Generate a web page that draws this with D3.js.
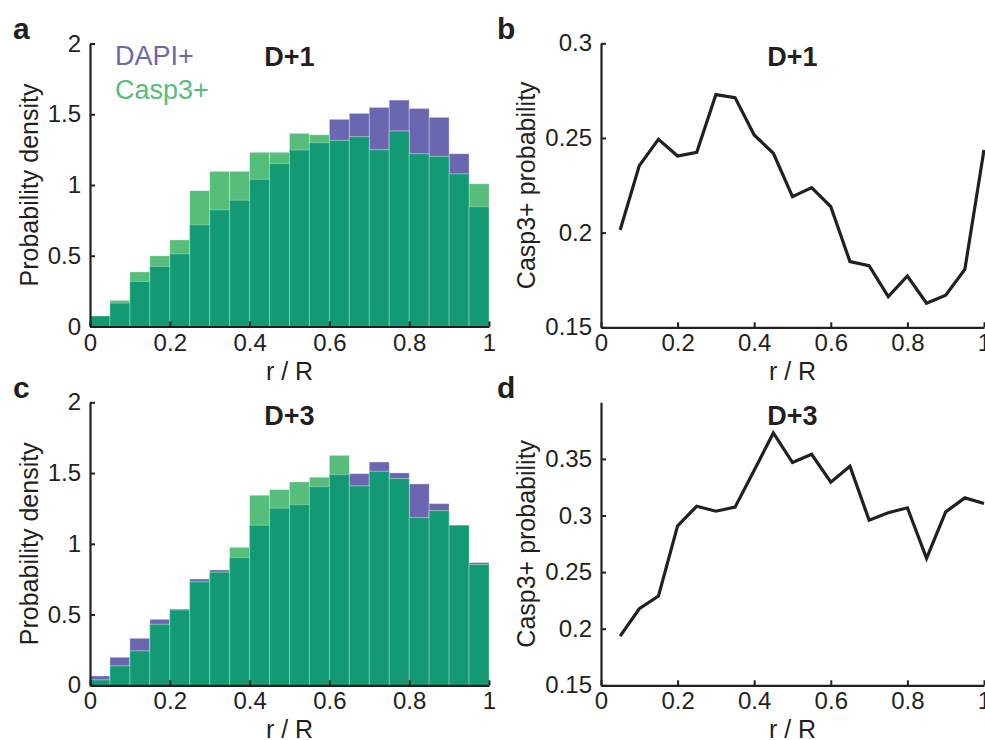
<!DOCTYPE html>
<html>
<head>
<meta charset="utf-8">
<script src="https://cdn.jsdelivr.net/npm/d3@7"></script>
<style>
  body { margin: 0; background: #fff; }
  svg { display: block; font-family: 'Liberation Sans', Arial, sans-serif; }
  .axis path, .axis line { stroke: #231f20; }
  .axis path { stroke-width: 2.2; }
  .axis line { stroke-width: 2; }
  .axis text { font-size: 24px; fill: #231f20; font-family: 'Liberation Sans', Arial, sans-serif; }
</style>
</head>
<body>
<svg id="fig"></svg>
<script>
// bin edges of r / R (20 bins)
let rEdges = [0, 0.05, 0.1, 0.15, 0.2, 0.25, 0.3, 0.35, 0.4, 0.45, 0.5,
  0.55, 0.6, 0.65, 0.7, 0.75, 0.8, 0.85, 0.9, 0.95, 1]
// x positions of the probability curves
let rPoints = [0.05, 0.1, 0.15, 0.2, 0.25, 0.3, 0.35, 0.4, 0.45, 0.5,
  0.55, 0.6, 0.65, 0.7, 0.75, 0.8, 0.85, 0.9, 0.95, 1]

// probability density, D+1
let dapiD1 = [0.074, 0.165, 0.318, 0.424, 0.513, 0.718, 0.824, 0.892, 1.04, 1.151,
  1.247, 1.299, 1.464, 1.506, 1.548, 1.6, 1.541, 1.478, 1.221, 0.847]
let caspD1 = [0.075, 0.184, 0.386, 0.499, 0.612, 0.96, 1.096, 1.096, 1.231, 1.231,
  1.365, 1.355, 1.315, 1.341, 1.249, 1.381, 1.221, 1.202, 1.078, 1.009]

// probability density, D+3
let dapiD3 = [0.066, 0.198, 0.332, 0.466, 0.539, 0.751, 0.815, 0.902, 1.131, 1.251,
  1.277, 1.404, 1.489, 1.496, 1.578, 1.501, 1.423, 1.284, 1.131, 0.867]
let caspD3 = [0.038, 0.137, 0.243, 0.431, 0.532, 0.73, 0.799, 0.975, 1.343, 1.383,
  1.437, 1.47, 1.625, 1.409, 1.512, 1.461, 1.185, 1.234, 1.131, 0.853]

// Casp3+ probability
let probD1 = [0.2014, 0.2354, 0.2493, 0.2405, 0.2424, 0.2729, 0.2713, 0.2516, 0.2419, 0.219,
  0.2238, 0.2137, 0.1847, 0.1826, 0.1662, 0.1771, 0.1627, 0.1669, 0.1806, 0.2437]
let probD3 = [0.1935, 0.2176, 0.2288, 0.2909, 0.3082, 0.3038, 0.3074, 0.34, 0.3729, 0.3468,
  0.3541, 0.3294, 0.3435, 0.2959, 0.3024, 0.3068, 0.2621, 0.3032, 0.3156, 0.3106]

// tick values
let xTicks = [0, 0.2, 0.4, 0.6, 0.8, 1]
let yTicksHist = [0, 0.5, 1, 1.5, 2]
let yTicksB = [0.15, 0.2, 0.25, 0.3]
let yTicksD = [0.15, 0.2, 0.25, 0.3, 0.35]

let colDapi = '#6a67b0'
let colCasp = '#57bd7b'
let colBoth = '#139a75'
let ink = '#231f20'

let svg = d3.select('#fig').attr('width', 985).attr('height', 740)

// pixel boxes of the four panels
let leftX = [90, 489]
let rightX = [601, 984]
let topY = [326.5, 43.5]
let botY = [685.3, 402.3]

function drawAxes(x, y, yTicks) {
  let g = svg.append('g')
  g.append('g')
    .attr('class', 'axis')
    .attr('transform', `translate(0,${y.range()[0]})`)
    .call(d3.axisBottom(x).tickValues(xTicks).tickFormat(d => String(d))
      .tickSizeInner(-5).tickSizeOuter(0).tickPadding(7))
  g.append('g')
    .attr('class', 'axis')
    .attr('transform', `translate(${x.range()[0]},0)`)
    .call(d3.axisLeft(y).tickValues(yTicks).tickFormat(d => String(d))
      .tickSizeInner(-5).tickSizeOuter(0).tickPadding(9))
  g.selectAll('.axis text').style('font-size', '24px')
}

function histPanel(xr, yr, dapi, casp, title, letter, legend) {
  let x = d3.scaleLinear().domain([0, 1]).range(xr)
  let y = d3.scaleLinear().domain([0, 2]).range(yr)
  let bins = dapi.map((d, i) => ({
    x0: rEdges[i], x1: rEdges[i + 1], dapi: d, casp: casp[i], both: Math.min(d, casp[i])
  }))
  let layers = [['dapi', colDapi], ['casp', colCasp], ['both', colBoth]]
  for (let [key, col] of layers) {
    svg.append('g')
      .selectAll('rect')
      .data(bins)
      .join('rect')
      .attr('x', d => x(d.x0))
      .attr('width', d => x(d.x1) - x(d.x0))
      .attr('y', d => y(d[key]))
      .attr('height', d => y(0) - y(d[key]))
      .attr('fill', col)
      .attr('stroke', '#ffffff')
      .attr('stroke-opacity', 0.3)
      .attr('stroke-width', 1)
  }
  drawAxes(x, y, yTicksHist)
  labels(x, y, title, letter, 'Probability density', 38)
  if (legend) {
    svg.append('text').attr('x', 115).attr('y', 65)
      .style('font-size', '27px').attr('fill', colDapi).text('DAPI+')
    svg.append('text').attr('x', 115).attr('y', 99)
      .style('font-size', '27px').attr('fill', colCasp).text('Casp3+')
  }
}

function linePanel(xr, yr, yDomain, yTicks, values, title, letter) {
  let x = d3.scaleLinear().domain([0, 1]).range(xr)
  let y = d3.scaleLinear().domain(yDomain).range(yr)
  let line = d3.line().x((d, i) => x(rPoints[i])).y(d => y(d))
  drawAxes(x, y, yTicks)
  svg.append('path')
    .datum(values)
    .attr('d', line)
    .attr('fill', 'none')
    .attr('stroke', ink)
    .attr('stroke-width', 3.2)
    .attr('stroke-linejoin', 'miter')
  labels(x, y, title, letter, 'Casp3+ probability', 535)
}

function labels(x, y, title, letter, ylab, ylabX) {
  let cx = (x.range()[0] + x.range()[1]) / 2
  let cy = (y.range()[0] + y.range()[1]) / 2
  let y0 = y.range()[0]
  let yTop = y.range()[1]
  svg.append('text')
    .attr('x', cx).attr('y', yTop + 22.5)
    .attr('text-anchor', 'middle')
    .style('font-size', '27px').style('font-weight', 'bold')
    .attr('fill', ink).text(title)
  svg.append('text')
    .attr('x', cx).attr('y', y0 + 53)
    .attr('text-anchor', 'middle')
    .style('font-size', '25px').attr('fill', ink).text('r / R')
  svg.append('text')
    .attr('transform', `translate(${ylabX},${cy}) rotate(-90)`)
    .attr('text-anchor', 'middle')
    .style('font-size', '25px').attr('fill', ink).text(ylab)
  svg.append('text')
    .attr('x', x.range()[0] - (x.range()[0] === 90 ? 77 : 104))
    .attr('y', yTop - 4.5)
    .style('font-size', '30px').style('font-weight', 'bold')
    .attr('fill', ink).text(letter)
}

histPanel(leftX, topY, dapiD1, caspD1, 'D+1', 'a', true)
linePanel(rightX, [327.3, 43.3], [0.15, 0.3], yTicksB, probD1, 'D+1', 'b')
histPanel(leftX, botY, dapiD3, caspD3, 'D+3', 'c', false)
linePanel(rightX, botY, [0.15, 0.4], yTicksD, probD3, 'D+3', 'd')
</script>
</body>
</html>
